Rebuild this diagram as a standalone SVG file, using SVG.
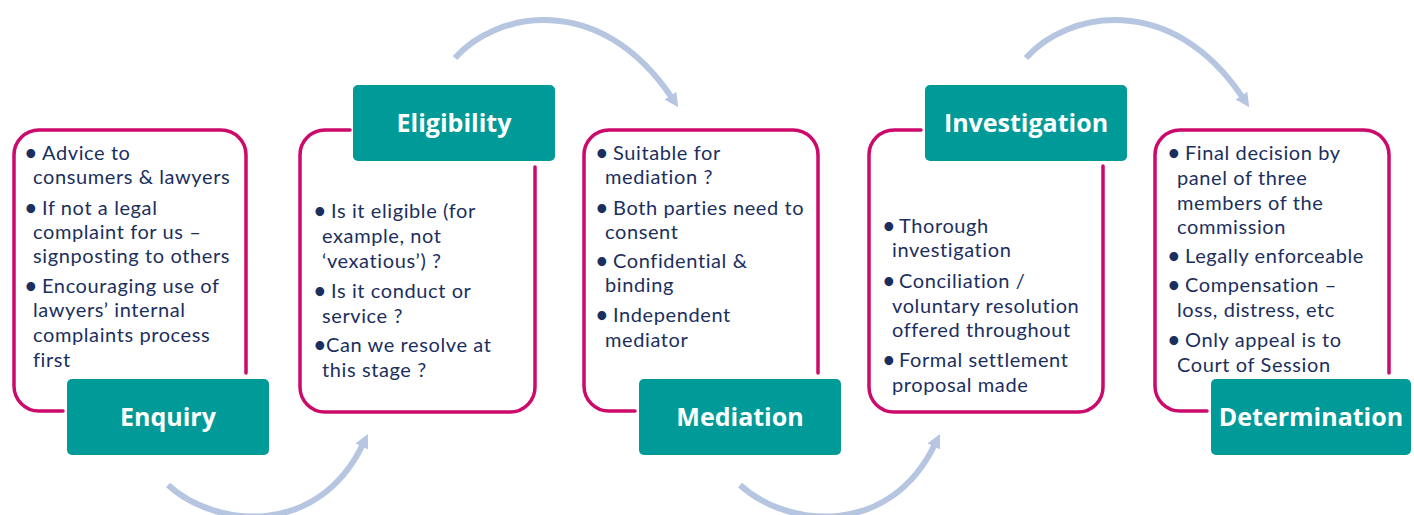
<svg xmlns="http://www.w3.org/2000/svg" width="1414" height="515" viewBox="0 0 1414 515">
<defs>
<style>
.frame{fill:none;stroke:#cc0a6b;stroke-width:3.5;stroke-linecap:round}
.tab{fill:#009b98}
.title{font-family:"Open Sans","Liberation Sans",sans-serif;font-weight:bold;font-size:25px;fill:#ffffff;text-anchor:middle}
.body{font-family:Lato,"Open Sans",sans-serif;font-size:20px;letter-spacing:0.6px;fill:#1b2f5e}
.dot{font-weight:bold}
.flow{fill:none;stroke:#b6c6e0;stroke-width:6;marker-end:url(#head)}
</style>
<marker id="head" viewBox="0 0 10 10" refX="2" refY="5" markerWidth="14" markerHeight="14" markerUnits="userSpaceOnUse" orient="auto">
<path d="M0,0 L10,5 L0,10 z" fill="#b6c6e0"/>
</marker>
</defs>
<rect width="1414" height="515" fill="#ffffff"/>

<g id="connectors">
<path class="flow" d="M168,485 C215,528 318,538 363,444"/>
<path class="flow" d="M455,58 C495,12 600,-10 672,98"/>
<path class="flow" d="M740,485 C787,528 890,538 935,444"/>
<path class="flow" d="M1026,58 C1066,12 1171,-10 1243,98"/>
</g>

<g id="enquiry">
<path class="frame" d="M246,373 V155 A25,25 0 0 0 221,130 H39 A25,25 0 0 0 14,155 V386 A25,25 0 0 0 39,411 H63"/>
<rect class="tab" x="67" y="379" width="202" height="76" rx="5"/>
<text class="title" x="168" y="426">Enquiry</text>
<text class="body"><tspan class="dot" x="25" y="160">•</tspan><tspan x="42" y="160">Advice to</tspan><tspan x="33" y="184">consumers &amp; lawyers</tspan><tspan class="dot" x="25" y="215">•</tspan><tspan x="42" y="215">If not a legal</tspan><tspan x="33" y="239">complaint for us –</tspan><tspan x="33" y="263">signposting to others</tspan><tspan class="dot" x="25" y="293">•</tspan><tspan x="42" y="293">Encouraging use of</tspan><tspan x="33" y="317">lawyers’ internal</tspan><tspan x="33" y="342">complaints process</tspan><tspan x="33" y="367">first</tspan></text>
</g>

<g id="eligibility">
<path class="frame" d="M350,130 H325 A25,25 0 0 0 300,155 V387 A25,25 0 0 0 325,412 H510 A25,25 0 0 0 535,387 V167"/>
<rect class="tab" x="353" y="85" width="202" height="76" rx="5"/>
<text class="title" x="454" y="132">Eligibility</text>
<text class="body"><tspan class="dot" x="314" y="218">•</tspan><tspan x="331" y="218">Is it eligible (for</tspan><tspan x="322" y="243">example, not</tspan><tspan x="322" y="268">‘vexatious’) ?</tspan><tspan class="dot" x="314" y="298">•</tspan><tspan x="331" y="298">Is it conduct or</tspan><tspan x="322" y="323">service ?</tspan><tspan class="dot" x="314" y="352">•</tspan><tspan x="326" y="352">Can we resolve at</tspan><tspan x="322" y="377">this stage ?</tspan></text>
</g>

<g id="mediation">
<path class="frame" d="M818,373 V155 A25,25 0 0 0 793,130 H609 A25,25 0 0 0 584,155 V386 A25,25 0 0 0 609,411 H635"/>
<rect class="tab" x="639" y="379" width="202" height="76" rx="5"/>
<text class="title" x="740" y="426">Mediation</text>
<text class="body"><tspan class="dot" x="596" y="160">•</tspan><tspan x="613" y="160">Suitable for</tspan><tspan x="605" y="184">mediation ?</tspan><tspan class="dot" x="596" y="215">•</tspan><tspan x="613" y="215">Both parties need to</tspan><tspan x="605" y="239">consent</tspan><tspan class="dot" x="596" y="268">•</tspan><tspan x="613" y="268">Confidential &amp;</tspan><tspan x="605" y="292">binding</tspan><tspan class="dot" x="596" y="322">•</tspan><tspan x="613" y="322">Independent</tspan><tspan x="605" y="347">mediator</tspan></text>
</g>

<g id="investigation">
<path class="frame" d="M921,130 H894 A25,25 0 0 0 869,155 V387 A25,25 0 0 0 894,412 H1078 A25,25 0 0 0 1103,387 V166"/>
<rect class="tab" x="925" y="85" width="202" height="76" rx="5"/>
<text class="title" x="1026" y="132">Investigation</text>
<text class="body"><tspan class="dot" x="883" y="233">•</tspan><tspan x="899" y="233">Thorough</tspan><tspan x="892" y="257">investigation</tspan><tspan class="dot" x="883" y="288">•</tspan><tspan x="899" y="288">Conciliation /</tspan><tspan x="892" y="313">voluntary resolution</tspan><tspan x="892" y="337">offered throughout</tspan><tspan class="dot" x="883" y="367">•</tspan><tspan x="899" y="367">Formal settlement</tspan><tspan x="892" y="392">proposal made</tspan></text>
</g>

<g id="determination">
<path class="frame" d="M1389,373 V155 A25,25 0 0 0 1364,130 H1180 A25,25 0 0 0 1155,155 V386 A25,25 0 0 0 1180,411 H1207"/>
<rect class="tab" x="1211" y="379" width="200" height="76" rx="5"/>
<text class="title" x="1311" y="426">Determination</text>
<text class="body"><tspan class="dot" x="1168" y="160">•</tspan><tspan x="1185" y="160">Final decision by</tspan><tspan x="1177" y="185">panel of three</tspan><tspan x="1177" y="210">members of the</tspan><tspan x="1177" y="234">commission</tspan><tspan class="dot" x="1168" y="263">•</tspan><tspan x="1185" y="263">Legally enforceable</tspan><tspan class="dot" x="1168" y="292">•</tspan><tspan x="1185" y="292">Compensation –</tspan><tspan x="1177" y="317">loss, distress, etc</tspan><tspan class="dot" x="1168" y="347">•</tspan><tspan x="1185" y="347">Only appeal is to</tspan><tspan x="1177" y="372">Court of Session</tspan></text>
</g>
</svg>
